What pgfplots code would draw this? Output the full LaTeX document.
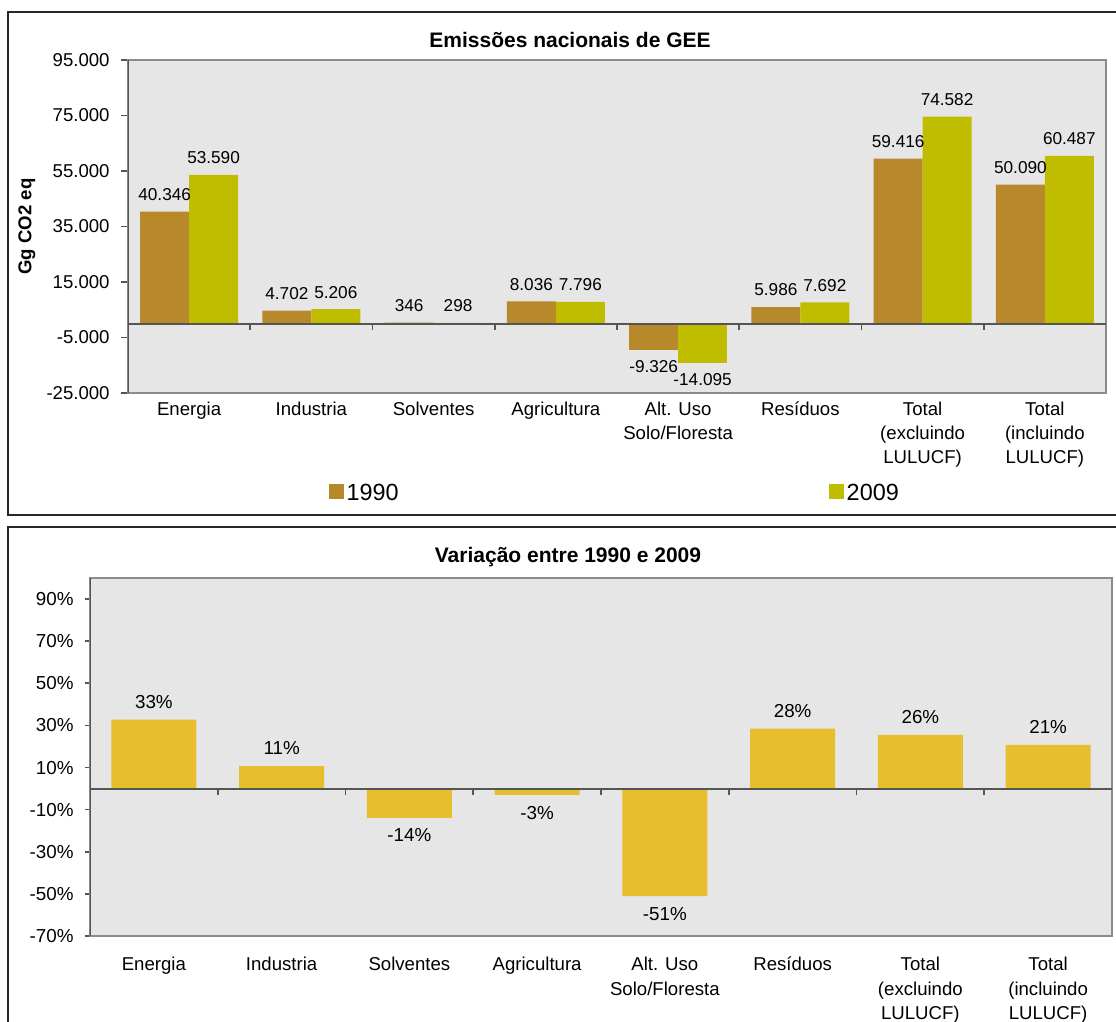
\documentclass[border=0pt]{standalone}
\usepackage{pgfplots}
\pgfplotsset{compat=1.18}
\usepackage{fontspec}
\setmainfont{Liberation Sans}
\setsansfont{Liberation Sans}
\definecolor{c1990}{HTML}{B8892B}
\definecolor{c2009}{HTML}{C0BC00}
\definecolor{cvar}{HTML}{E6BE2E}
\definecolor{bg}{HTML}{E6E6E6}
\definecolor{axdark}{HTML}{555555}
\definecolor{axlight}{HTML}{8C8C8C}
\pgfplotsset{
  sqlegend/.style={legend image code/.code={\fill[##1] (0pt,-2.5pt) rectangle (7.5pt,5pt);}},
  neg/.style={every node near coord/.append style={anchor=north}},
}
\begin{document}
\begin{tikzpicture}
\useasboundingbox (0,0) rectangle (558pt,-511pt);
\draw[line width=1pt, color=black!85] (4pt,-6pt) rectangle (575pt,-257.5pt);
\draw[line width=1pt, color=black!85] (4pt,-263.5pt) rectangle (575pt,-530pt);

% ---------------- top chart ----------------
\begin{axis}[
  at={(64pt,-30pt)}, anchor=north west,
  scale only axis, width=489pt, height=166.5pt,
  xmin=-0.5, xmax=7.5, ymin=-25000, ymax=95000,
  axis background/.style={fill=bg},
  axis line style={draw=axlight, line width=0.6pt},
  tick align=outside, major tick length=3.25pt,
  ytick pos=left, xtick pos=bottom,
  scaled y ticks=false,
  xtick={0,...,7},
  xticklabels={Energia, Industria, Solventes, Agricultura, {Alt. Uso\\Solo/Floresta}, Resíduos, {Total\\(excluindo\\LULUCF)}, {Total\\(incluindo\\LULUCF)}},
  xtick style={draw=none},
  xticklabel style={align=center, font=\fontsize{9.3}{12}\selectfont, inner sep=0pt, anchor=north, yshift=-0.95pt},
  ytick={-25000,-5000,15000,35000,55000,75000,95000},
  yticklabels={-25.000,-5.000,15.000,35.000,55.000,75.000,95.000},
  yticklabel style={font=\fontsize{9.3}{11}\selectfont, inner sep=0pt, anchor=east, xshift=-5.75pt},
  ytick style={draw=axdark, line width=0.8pt},
  ylabel={Gg CO2 eq},
  ylabel style={font=\bfseries\fontsize{9.3}{11}\selectfont, at={(axis description cs:-0.1125,0.5)}, anchor=north, inner sep=0pt},
  title={Emissões nacionais de GEE},
  title style={font=\bfseries\fontsize{10.5}{12}\selectfont, at={(axis description cs:0.452,1)}, anchor=base, yshift=0.35pt, inner sep=0pt},
  ybar, bar width=0.4,
  nodes near coords, point meta=explicit symbolic,
  every node near coord/.append style={font=\fontsize{8.6}{10}\selectfont, text=black, inner xsep=0pt, inner ysep=5.3pt, anchor=south},
  legend style={at={(axis description cs:0.2048,-0.3033)}, anchor=west, legend columns=2, draw=none, fill=none, inner sep=0pt,
    font=\fontsize{11.7}{13}\selectfont,
    /tikz/every even column/.append style={column sep=215pt},
    /tikz/every odd column/.append style={column sep=1.5pt},
    nodes={inner sep=0pt}},
]
\addplot[fill=c1990, draw=none, bar shift=-0.2, sqlegend] coordinates {
 (0,40346) [40.346]
 (1,4702) [4.702]
 (2,346) [346]
 (3,8036) [8.036]
 (5,5986) [5.986]
 (6,59416) [59.416]
 (7,50090) [50.090]
};
\addlegendentry{1990}
\addplot[fill=c2009, draw=none, bar shift=0.2, sqlegend] coordinates {
 (0,53590) [53.590]
 (1,5206) [5.206]
 (2,298) [298]
 (3,7796) [7.796]
 (5,7692) [7.692]
 (6,74582) [74.582]
 (7,60487) [60.487]
};
\addlegendentry{2009}
\addplot[fill=c1990, draw=none, bar shift=-0.2, neg, forget plot] coordinates {
 (4,-9326) [-9.326]
};
\addplot[fill=c2009, draw=none, bar shift=0.2, neg, forget plot] coordinates {
 (4,-14095) [-14.095]
};
\draw[axdark, line width=1pt] (axis cs:-0.5,0) -- (axis cs:7.5,0);
\draw[axdark, line width=0.8pt] (axis cs:0.5,0) -- ([yshift=-3pt]axis cs:0.5,0);
\draw[axdark, line width=0.8pt] (axis cs:1.5,0) -- ([yshift=-3pt]axis cs:1.5,0);
\draw[axdark, line width=0.8pt] (axis cs:2.5,0) -- ([yshift=-3pt]axis cs:2.5,0);
\draw[axdark, line width=0.8pt] (axis cs:3.5,0) -- ([yshift=-3pt]axis cs:3.5,0);
\draw[axdark, line width=0.8pt] (axis cs:4.5,0) -- ([yshift=-3pt]axis cs:4.5,0);
\draw[axdark, line width=0.8pt] (axis cs:5.5,0) -- ([yshift=-3pt]axis cs:5.5,0);
\draw[axdark, line width=0.8pt] (axis cs:6.5,0) -- ([yshift=-3pt]axis cs:6.5,0);
\draw[axdark, line width=1pt] (rel axis cs:0,0) -- (rel axis cs:0,1);
\end{axis}

% ---------------- bottom chart ----------------
\begin{axis}[
  at={(45pt,-289pt)}, anchor=north west,
  scale only axis, width=511pt, height=179pt,
  xmin=-0.5, xmax=7.5, ymin=-70, ymax=100,
  axis background/.style={fill=bg},
  axis line style={draw=axlight, line width=0.6pt},
  tick align=outside, major tick length=2.5pt,
  ytick pos=left, xtick pos=bottom,
  xtick={0,...,7},
  xticklabels={Energia, Industria, Solventes, Agricultura, {Alt. Uso\\Solo/Floresta}, Resíduos, {Total\\(excluindo\\LULUCF)}, {Total\\(incluindo\\LULUCF)}},
  xtick style={draw=none},
  xticklabel style={align=center, font=\fontsize{9.3}{12.3}\selectfont, inner sep=0pt, anchor=north, yshift=-7.85pt},
  ytick={-70,-50,-30,-10,10,30,50,70,90},
  yticklabels={-70\%,-50\%,-30\%,-10\%,10\%,30\%,50\%,70\%,90\%},
  yticklabel style={font=\fontsize{9.4}{11}\selectfont, inner sep=0pt, anchor=east, xshift=-5.5pt},
  ytick style={draw=axdark, line width=0.8pt},
  title={Variação entre 1990 e 2009},
  title style={font=\bfseries\fontsize{10.5}{12}\selectfont, at={(axis description cs:0.4677,1)}, anchor=base, yshift=1.65pt, inner sep=0pt},
  ybar, bar width=0.665,
  nodes near coords, point meta=explicit symbolic,
  every node near coord/.append style={font=\fontsize{9.4}{11}\selectfont, text=black, inner xsep=0pt, inner ysep=5.3pt, anchor=south},
]
\addplot[fill=cvar, draw=none, bar shift=0] coordinates {
 (0,32.8) [33\%]
 (1,10.7) [11\%]
 (5,28.5) [28\%]
 (6,25.5) [26\%]
 (7,20.8) [21\%]
};
\addplot[fill=cvar, draw=none, bar shift=0, neg] coordinates {
 (2,-13.9) [-14\%]
 (3,-3.0) [-3\%]
 (4,-51.1) [-51\%]
};
\draw[axdark, line width=1pt] (axis cs:-0.5,0) -- (axis cs:7.5,0);
\draw[axdark, line width=0.8pt] (axis cs:0.5,0) -- ([yshift=-3pt]axis cs:0.5,0);
\draw[axdark, line width=0.8pt] (axis cs:1.5,0) -- ([yshift=-3pt]axis cs:1.5,0);
\draw[axdark, line width=0.8pt] (axis cs:2.5,0) -- ([yshift=-3pt]axis cs:2.5,0);
\draw[axdark, line width=0.8pt] (axis cs:3.5,0) -- ([yshift=-3pt]axis cs:3.5,0);
\draw[axdark, line width=0.8pt] (axis cs:4.5,0) -- ([yshift=-3pt]axis cs:4.5,0);
\draw[axdark, line width=0.8pt] (axis cs:5.5,0) -- ([yshift=-3pt]axis cs:5.5,0);
\draw[axdark, line width=0.8pt] (axis cs:6.5,0) -- ([yshift=-3pt]axis cs:6.5,0);
\draw[axdark, line width=1pt] (rel axis cs:0,0) -- (rel axis cs:0,1);
\end{axis}
\end{tikzpicture}
\end{document}
